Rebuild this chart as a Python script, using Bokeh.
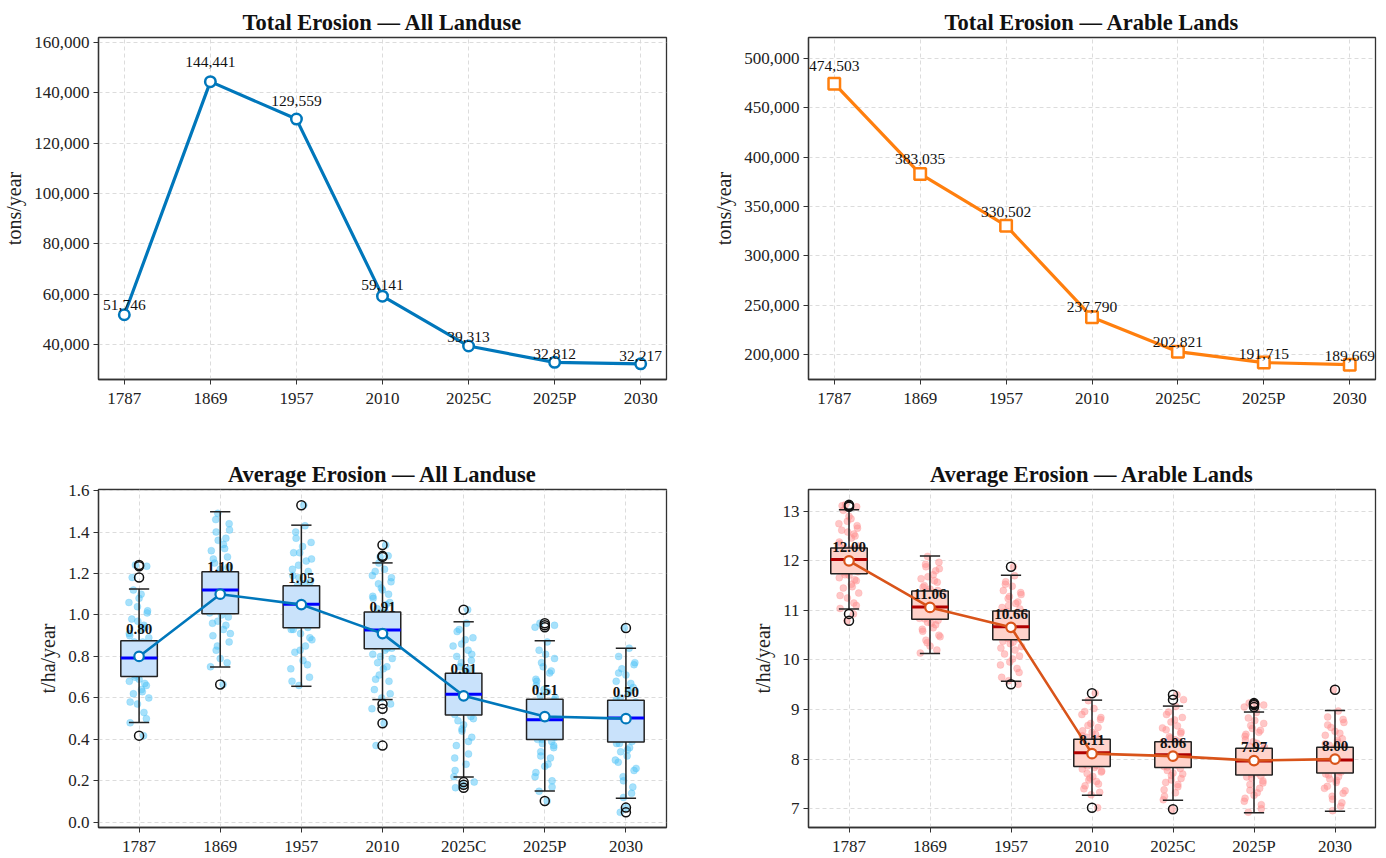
from bokeh.plotting import figure
from bokeh.layouts import column, row
from bokeh.models import FixedTicker, NumeralTickFormatter, Range1d
from bokeh.core.properties import value
from bokeh.embed import file_html
from bokeh.resources import INLINE

FONT = "Liberation Serif"

CATS = ["1787", "1869", "1957", "2010", "2025C", "2025P", "2030"]

# Top panels: total erosion (tons/year)
TOTAL_ALL = [51746, 144441, 129559, 59141, 39313, 32812, 32217]
TOTAL_ARABLE = [474503, 383035, 330502, 237790, 202821, 191715, 189669]

# Bottom panels: means (t/ha/year)
MEAN_ALL = [0.80, 1.10, 1.05, 0.91, 0.61, 0.51, 0.50]
MEAN_ARABLE = [12.00, 11.06, 10.66, 8.11, 8.06, 7.97, 8.00]

# Box statistics, All Landuse
Q1_ALL = [0.703, 1.006, 0.938, 0.837, 0.518, 0.399, 0.387]
MED_ALL = [0.792, 1.120, 1.052, 0.927, 0.618, 0.495, 0.503]
Q3_ALL = [0.876, 1.208, 1.141, 1.014, 0.719, 0.594, 0.589]
WLO_ALL = [0.481, 0.749, 0.656, 0.592, 0.219, 0.151, 0.116]
WHI_ALL = [1.125, 1.498, 1.433, 1.251, 0.967, 0.876, 0.840]
OUT_ALL = [[1.241, 1.235, 1.181, 0.418], [0.665], [1.529],
           [1.337, 1.285, 1.280, 0.571, 0.548, 0.478, 0.370],
           [1.025, 0.194, 0.181, 0.167], [0.960, 0.950, 0.941, 0.103],
           [0.937, 0.071, 0.048]]

# Box statistics, Arable Lands
Q1_AR = [11.74, 10.82, 10.41, 7.85, 7.83, 7.68, 7.72]
MED_AR = [12.03, 11.07, 10.67, 8.13, 8.09, 7.96, 7.98]
Q3_AR = [12.26, 11.39, 10.99, 8.40, 8.35, 8.22, 8.24]
WLO_AR = [11.03, 10.13, 9.57, 7.27, 7.17, 6.92, 6.95]
WHI_AR = [13.03, 12.10, 11.71, 9.19, 9.07, 8.95, 8.98]
OUT_AR = [[13.13, 13.09, 13.11, 10.93, 10.79], [], [11.88, 9.51],
          [9.33, 7.02], [9.30, 9.20, 6.99], [9.13, 9.09, 9.05, 9.11], [9.40]]

# Individual cell values
PTS_ALL = [
    [0.48, 0.53, 0.57, 0.60, 0.62, 0.64, 0.66, 0.68, 0.69, 0.71, 0.72, 0.73, 0.74, 0.75, 0.76, 0.77, 0.78, 0.785,
     0.79, 0.80, 0.81, 0.82, 0.83, 0.84, 0.85, 0.86, 0.87, 0.89, 0.91, 0.93, 0.95, 0.98, 1.01, 1.04, 1.08, 1.12],
    [0.75, 0.79, 0.83, 0.87, 0.90, 0.93, 0.95, 0.97, 0.99, 1.01, 1.02, 1.03, 1.05, 1.06, 1.07, 1.08, 1.09, 1.10,
     1.11, 1.12, 1.13, 1.14, 1.15, 1.16, 1.17, 1.18, 1.20, 1.22, 1.25, 1.28, 1.31, 1.34, 1.37, 1.40, 1.44, 1.49],
    [0.66, 0.70, 0.74, 0.78, 0.82, 0.85, 0.88, 0.91, 0.93, 0.94, 0.95, 0.96, 0.98, 0.99, 1.00, 1.01, 1.02, 1.03,
     1.04, 1.05, 1.06, 1.07, 1.08, 1.09, 1.11, 1.12, 1.14, 1.16, 1.18, 1.21, 1.24, 1.27, 1.30, 1.33, 1.37, 1.43],
    [0.60, 0.64, 0.68, 0.71, 0.74, 0.77, 0.79, 0.81, 0.83, 0.84, 0.85, 0.86, 0.87, 0.88, 0.89, 0.90, 0.91, 0.92,
     0.93, 0.94, 0.95, 0.96, 0.97, 0.98, 0.99, 1.00, 1.01, 1.03, 1.05, 1.08, 1.10, 1.13, 1.16, 1.19, 1.22, 1.25],
    [0.22, 0.28, 0.33, 0.37, 0.41, 0.44, 0.47, 0.49, 0.51, 0.52, 0.53, 0.54, 0.55, 0.56, 0.57, 0.58, 0.59, 0.60,
     0.61, 0.62, 0.63, 0.64, 0.65, 0.67, 0.68, 0.70, 0.71, 0.73, 0.75, 0.78, 0.80, 0.83, 0.86, 0.89, 0.93, 0.96],
    [0.15, 0.20, 0.24, 0.28, 0.31, 0.34, 0.36, 0.38, 0.39, 0.40, 0.41, 0.42, 0.43, 0.44, 0.45, 0.46, 0.47, 0.48,
     0.49, 0.50, 0.51, 0.52, 0.53, 0.55, 0.56, 0.57, 0.59, 0.61, 0.63, 0.66, 0.69, 0.72, 0.75, 0.79, 0.83, 0.87],
    [0.12, 0.17, 0.22, 0.26, 0.29, 0.32, 0.34, 0.36, 0.38, 0.39, 0.40, 0.41, 0.42, 0.43, 0.44, 0.45, 0.46, 0.47,
     0.48, 0.49, 0.50, 0.51, 0.52, 0.53, 0.55, 0.57, 0.58, 0.60, 0.62, 0.65, 0.68, 0.71, 0.74, 0.77, 0.80, 0.84],
]
PTS_ALL_MORE = [
    [0.50, 0.58, 0.63, 0.67, 0.70, 0.72, 0.74, 0.76, 0.78, 0.80, 0.81, 0.83, 0.85, 0.87, 0.90, 0.94, 0.97, 1.02, 1.06, 1.10],
    [0.77, 0.85, 0.91, 0.96, 1.00, 1.02, 1.04, 1.07, 1.09, 1.11, 1.13, 1.15, 1.17, 1.19, 1.23, 1.27, 1.32, 1.36, 1.41, 1.46],
    [0.68, 0.76, 0.83, 0.89, 0.93, 0.96, 0.99, 1.02, 1.04, 1.06, 1.08, 1.10, 1.12, 1.15, 1.19, 1.22, 1.26, 1.30, 1.35, 1.40],
    [0.62, 0.69, 0.75, 0.80, 0.84, 0.86, 0.88, 0.90, 0.92, 0.94, 0.96, 0.98, 1.00, 1.02, 1.06, 1.09, 1.12, 1.15, 1.18, 1.21],
    [0.25, 0.31, 0.39, 0.45, 0.50, 0.53, 0.55, 0.58, 0.60, 0.62, 0.64, 0.66, 0.69, 0.72, 0.74, 0.77, 0.81, 0.85, 0.88, 0.92],
    [0.17, 0.22, 0.27, 0.32, 0.37, 0.40, 0.42, 0.44, 0.46, 0.48, 0.50, 0.52, 0.54, 0.57, 0.60, 0.64, 0.68, 0.73, 0.77, 0.81],
    [0.14, 0.20, 0.25, 0.30, 0.35, 0.38, 0.40, 0.42, 0.44, 0.46, 0.48, 0.50, 0.52, 0.54, 0.56, 0.59, 0.63, 0.67, 0.72, 0.76],
]
PTS_AR = [
    [11.04, 11.15, 11.25, 11.35, 11.45, 11.53, 11.60, 11.66, 11.71, 11.76, 11.80, 11.84, 11.87, 11.90, 11.93, 11.96,
     11.99, 12.01, 12.03, 12.05, 12.08, 12.11, 12.14, 12.17, 12.20, 12.23, 12.25, 12.30, 12.38, 12.46, 12.54, 12.62,
     12.71, 12.80, 12.90, 13.02],
    [10.14, 10.28, 10.40, 10.50, 10.58, 10.65, 10.71, 10.76, 10.80, 10.84, 10.87, 10.90, 10.93, 10.96, 10.99, 11.02,
     11.05, 11.07, 11.09, 11.12, 11.15, 11.18, 11.22, 11.26, 11.30, 11.34, 11.38, 11.43, 11.50, 11.57, 11.64, 11.72,
     11.80, 11.88, 11.97, 12.09],
    [9.58, 9.75, 9.90, 10.02, 10.12, 10.20, 10.27, 10.33, 10.38, 10.43, 10.46, 10.49, 10.52, 10.55, 10.58, 10.61,
     10.64, 10.67, 10.70, 10.73, 10.76, 10.79, 10.83, 10.87, 10.91, 10.95, 10.98, 11.03, 11.10, 11.17, 11.24, 11.32,
     11.40, 11.49, 11.58, 11.70],
    [7.28, 7.40, 7.50, 7.58, 7.65, 7.71, 7.76, 7.80, 7.83, 7.87, 7.90, 7.93, 7.96, 7.99, 8.02, 8.05, 8.08, 8.11,
     8.13, 8.16, 8.19, 8.22, 8.25, 8.28, 8.31, 8.35, 8.39, 8.44, 8.50, 8.57, 8.64, 8.72, 8.80, 8.90, 9.02, 9.18],
    [7.18, 7.32, 7.44, 7.53, 7.61, 7.67, 7.72, 7.77, 7.81, 7.85, 7.88, 7.91, 7.94, 7.97, 8.00, 8.03, 8.06, 8.09,
     8.11, 8.14, 8.17, 8.20, 8.23, 8.26, 8.29, 8.32, 8.34, 8.39, 8.45, 8.52, 8.59, 8.67, 8.75, 8.84, 8.95, 9.06],
    [6.93, 7.08, 7.21, 7.32, 7.41, 7.49, 7.56, 7.62, 7.66, 7.70, 7.73, 7.76, 7.79, 7.82, 7.85, 7.88, 7.91, 7.94,
     7.96, 7.99, 8.02, 8.05, 8.08, 8.11, 8.14, 8.17, 8.21, 8.26, 8.32, 8.39, 8.46, 8.54, 8.62, 8.72, 8.83, 8.94],
    [6.96, 7.12, 7.25, 7.36, 7.45, 7.53, 7.60, 7.65, 7.70, 7.74, 7.77, 7.80, 7.83, 7.86, 7.89, 7.92, 7.95, 7.98,
     8.00, 8.03, 8.06, 8.09, 8.12, 8.15, 8.18, 8.21, 8.23, 8.28, 8.34, 8.41, 8.48, 8.56, 8.64, 8.74, 8.85, 8.97],
]
PTS_AR_MORE = [
    [11.10, 11.30, 11.48, 11.62, 11.72, 11.78, 11.85, 11.91, 11.97, 12.02, 12.06, 12.12, 12.18, 12.24, 12.34, 12.50, 12.58, 12.66, 12.75, 12.85],
    [10.20, 10.35, 10.47, 10.62, 10.74, 10.83, 10.89, 10.95, 11.01, 11.06, 11.11, 11.16, 11.24, 11.32, 11.40, 11.47, 11.60, 11.68, 11.84, 11.93],
    [9.65, 9.83, 9.96, 10.08, 10.24, 10.36, 10.44, 10.50, 10.56, 10.62, 10.68, 10.74, 10.81, 10.89, 10.96, 11.06, 11.14, 11.28, 11.36, 11.53],
    [7.33, 7.46, 7.55, 7.62, 7.74, 7.86, 7.92, 7.98, 8.04, 8.10, 8.14, 8.20, 8.27, 8.33, 8.41, 8.47, 8.54, 8.68, 8.84, 8.96],
    [7.25, 7.38, 7.49, 7.58, 7.70, 7.84, 7.90, 7.96, 8.02, 8.08, 8.12, 8.18, 8.24, 8.30, 8.36, 8.42, 8.55, 8.63, 8.79, 8.90],
    [7.00, 7.15, 7.27, 7.37, 7.52, 7.64, 7.72, 7.78, 7.84, 7.90, 7.97, 8.04, 8.10, 8.16, 8.24, 8.35, 8.50, 8.58, 8.68, 8.78],
    [7.05, 7.19, 7.31, 7.41, 7.57, 7.68, 7.75, 7.82, 7.88, 7.94, 7.99, 8.05, 8.11, 8.17, 8.26, 8.31, 8.38, 8.52, 8.69, 8.80],
]

# horizontal jitter offsets (category units) for the strip points
JITTER = [-0.11, 0.06, -0.02, 0.12, -0.07, 0.03, 0.09, -0.12, 0.00, -0.05, 0.11, -0.09, 0.04, 0.07,
          -0.03, 0.10, -0.13, 0.02, -0.08, 0.05, 0.13, -0.01, -0.10, 0.08, -0.04, 0.01, -0.06, 0.12,
          -0.12, 0.03, 0.06, -0.09, 0.10, -0.02, 0.00, -0.07, 0.09, -0.11, 0.04, 0.07, -0.05, 0.11, -0.03,
          0.085, -0.035, 0.125, -0.095, 0.015, -0.065, 0.045, -0.115, 0.075, -0.015, 0.105, -0.125,
          0.025, -0.045, 0.095, -0.085, 0.055, -0.025, 0.115, -0.055, 0.035, -0.105]

BLUE = "#0077BB"
ORANGE = "#FF7F0E"
REDLINE = "#D9541A"


def base_fig(title, xr, yr, mbl, mbr, mbt, mbb, yticks, yfmt, ylabel):
    p = figure(width=693, height=429, x_range=Range1d(*xr), y_range=Range1d(*yr),
               output_backend="svg", toolbar_location=None,
               min_border_left=mbl, min_border_right=mbr, min_border_top=mbt, min_border_bottom=mbb)
    p.title.text = title
    p.title.align = "center"
    p.title.text_font = FONT
    p.title.text_font_size = "22.5px"
    p.title.text_font_style = "bold"
    p.title.text_color = "#111111"
    p.title.standoff = 6
    p.outline_line_color = "#333333"
    p.outline_line_width = 1.3
    p.outline_line_alpha = 1.0
    p.axis.axis_line_color = "#333333"
    p.axis.axis_line_width = 1.3
    p.axis.major_tick_out = 5
    p.axis.major_tick_in = 0
    p.axis.minor_tick_out = 0
    p.axis.minor_tick_in = 0
    p.axis.major_tick_line_color = "#333333"
    p.axis.major_label_text_font = FONT
    p.axis.major_label_text_font_size = "17px"
    p.axis.major_label_text_color = "#222222"
    p.axis.major_label_standoff = 4
    p.grid.grid_line_color = "#d8d8d8"
    p.grid.grid_line_dash = "4 3"
    p.grid.grid_line_width = 0.9
    p.yaxis.ticker = FixedTicker(ticks=yticks)
    p.yaxis.formatter = NumeralTickFormatter(format=yfmt)
    p.yaxis.axis_label = ylabel
    p.yaxis.axis_label_text_font = FONT
    p.yaxis.axis_label_text_font_size = "20px"
    p.yaxis.axis_label_text_font_style = "normal"
    p.yaxis.axis_label_text_color = "#222222"
    p.yaxis.axis_label_standoff = 6
    return p


def set_x(p, xs):
    p.xaxis.ticker = FixedTicker(ticks=xs)
    p.xaxis.major_label_overrides = {x: c for x, c in zip(xs, CATS)}


# ---------- Top-left ----------
x_top = list(range(len(CATS)))
p1 = base_fig("Total Erosion \u2014 All Landuse", (-0.3, 6.3), (26000, 162000), 98, 27, 37, 50,
              list(range(40000, 160001, 20000)), "0,0", "tons/year")
set_x(p1, x_top)
p1.line(x_top, TOTAL_ALL, line_color=BLUE, line_width=3.2)
p1.scatter(x_top, TOTAL_ALL, marker="circle", size=10.5, line_color=BLUE, line_width=2.5, fill_color="white")
p1.text(x_top, [v * 1.04 + 1900 for v in TOTAL_ALL], text=[f"{v:,}" for v in TOTAL_ALL],
        text_font=value(FONT), text_font_size=value("15.5px"), text_align="center",
        text_baseline="middle", text_color="#111111")

# ---------- Top-right ----------
p2 = base_fig("Total Erosion \u2014 Arable Lands", (-0.3, 6.3), (174600, 521300), 115, 11, 37, 50,
              list(range(200000, 500001, 50000)), "0,0", "tons/year")
set_x(p2, x_top)
p2.line(x_top, TOTAL_ARABLE, line_color=ORANGE, line_width=3.2)
p2.scatter(x_top, TOTAL_ARABLE, marker="square", size=11.5, line_color=ORANGE, line_width=2.5, fill_color="white")
p2.text(x_top, [v * 1.032 + 3050 for v in TOTAL_ARABLE], text=[f"{v:,}" for v in TOTAL_ARABLE],
        text_font=value(FONT), text_font_size=value("15.5px"), text_align="center",
        text_baseline="middle", text_color="#111111")


def box_panel(p, pts, more, q1, med, q3, wlo, whi, outs, means, pt_color, box_fill, med_color, line_color, lab_off):
    xs = [i + 1 for i in range(len(CATS))]
    set_x(p, xs)
    px, py = [], []
    for i, vals in enumerate(pts):
        allv = vals + more[i] + outs[i]
        for j, v in enumerate(allv):
            px.append(xs[i] + JITTER[(j + 7 * i) % len(JITTER)])
            py.append(v)
    p.scatter(px, py, marker="circle", size=7, fill_color=pt_color, fill_alpha=0.5, line_color=pt_color,
              line_alpha=0.25)
    p.segment(xs, q3, xs, whi, line_color="#222222", line_width=1.5)
    p.segment(xs, q1, xs, wlo, line_color="#222222", line_width=1.5)
    p.segment([x - 0.125 for x in xs], whi, [x + 0.125 for x in xs], whi, line_color="#222222", line_width=1.5)
    p.segment([x - 0.125 for x in xs], wlo, [x + 0.125 for x in xs], wlo, line_color="#222222", line_width=1.5)
    p.vbar(x=xs, width=0.45, bottom=q1, top=q3, fill_color=box_fill, line_color="#222222", line_width=1.5)
    p.segment([x - 0.225 for x in xs], med, [x + 0.225 for x in xs], med, line_color=med_color, line_width=3)
    ox, oy = [], []
    for i, o in enumerate(outs):
        for v in o:
            ox.append(xs[i])
            oy.append(v)
    p.scatter(ox, oy, marker="circle", size=9, fill_color=None, line_color="#111111", line_width=1.5)
    p.line(xs, means, line_color=line_color, line_width=2.6)
    p.scatter(xs, means, marker="circle", size=9.5, line_color=line_color, line_width=2.2, fill_color="white")
    p.text(xs, [m + lab_off for m in means], text=[f"{m:.2f}" for m in means],
           text_font=value(FONT), text_font_size=value("15px"), text_font_style="bold",
           text_align="center", text_baseline="middle", text_color="#111111")


# ---------- Bottom-left ----------
p3 = base_fig("Average Erosion \u2014 All Landuse", (0.5, 7.5), (-0.025, 1.605), 98, 27, 60, 28,
              [0.0, 0.2, 0.4, 0.6, 0.8, 1.0, 1.2, 1.4, 1.6], "0.0", "t/ha/year")
box_panel(p3, PTS_ALL, PTS_ALL_MORE, Q1_ALL, MED_ALL, Q3_ALL, WLO_ALL, WHI_ALL, OUT_ALL, MEAN_ALL,
          "#4FC3F7", "#C9E2FB", "#0000FF", BLUE, 0.13)

# ---------- Bottom-right ----------
p4 = base_fig("Average Erosion \u2014 Arable Lands", (0.5, 7.5), (6.62, 13.44), 115, 11, 59, 28,
              [7, 8, 9, 10, 11, 12, 13], "0", "t/ha/year")
box_panel(p4, PTS_AR, PTS_AR_MORE, Q1_AR, MED_AR, Q3_AR, WLO_AR, WHI_AR, OUT_AR, MEAN_ARABLE,
          "#FF8F8F", "#FFD3CB", "#B00000", REDLINE, 0.27)

layout = column(row(p1, p2), row(p3, p4))
open("out.html", "w").write(file_html(layout, INLINE))
